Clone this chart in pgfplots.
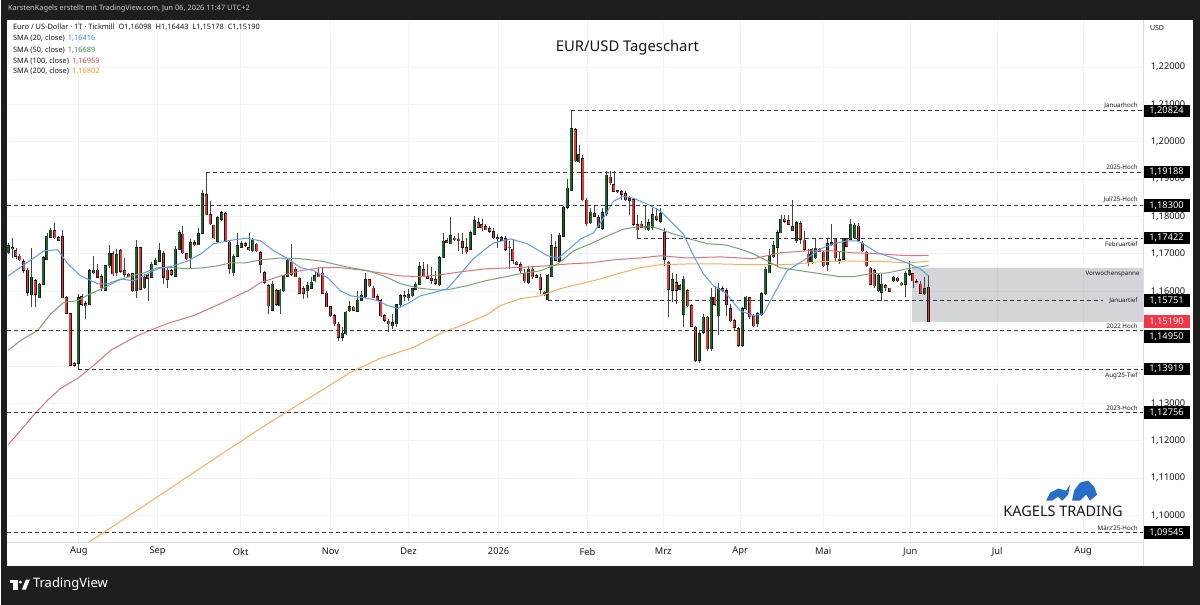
\documentclass[border=0pt]{standalone}
\usepackage{pgfplots}
\pgfplotsset{compat=1.18}
\usepackage{pgfplotstable}
\usepackage{fontspec}
\setmainfont{Noto Sans}
\definecolor{frame}{RGB}{30,30,30}
\definecolor{hdr}{RGB}{205,205,205}
\definecolor{txt}{RGB}{19,23,34}
\definecolor{gridc}{RGB}{240,243,250}
\definecolor{sepc}{RGB}{220,223,230}
\definecolor{wick}{RGB}{70,70,70}
\definecolor{outl}{RGB}{25,25,25}
\definecolor{upc}{RGB}{30,100,40}
\definecolor{dnc}{RGB}{232,55,55}
\definecolor{smaA}{RGB}{91,156,246}
\definecolor{smaB}{RGB}{115,165,115}
\definecolor{smaC}{RGB}{228,115,115}
\definecolor{smaD}{RGB}{255,172,90}
\definecolor{valA}{RGB}{70,130,240}
\definecolor{valB}{RGB}{70,140,70}
\definecolor{valC}{RGB}{225,60,60}
\definecolor{valD}{RGB}{255,150,50}
\definecolor{lvl}{RGB}{55,55,55}
\definecolor{boxg}{RGB}{149,152,161}
\definecolor{lastred}{RGB}{242,54,69}
\definecolor{kblue}{RGB}{40,110,200}
\newcommand{\fs}[1]{\fontsize{#1}{#1}\selectfont}
\tikzset{
  lvltxt/.style={font=\fs{6.2}, text=txt, inner sep=0pt},
  tk/.style={font=\fs{9.3}, text=txt, inner sep=0pt},
  pbox/.style={fill=black, text=white, font=\fs{9.3}, minimum width=47pt, minimum height=12.5pt, inner sep=0pt},
}
\pgfplotsset{lvlline/.style={lvl, line width=0.9pt, dash pattern=on 4pt off 3pt, forget plot}}

\pgfplotstableread{
i o h l c
0 1.1703 1.1730 1.1699 1.1721
1 1.1716 1.1743 1.1690 1.1714
2 1.1708 1.1715 1.1685 1.1694
3 1.1694 1.1699 1.1681 1.1684
4 1.1678 1.1686 1.1650 1.1656
5 1.1656 1.1663 1.1588 1.1597
6 1.1592 1.1716 1.1557 1.1637
7 1.1628 1.1632 1.1557 1.1592
8 1.1583 1.1623 1.1581 1.1619
9 1.1619 1.1694 1.1617 1.1690
10 1.1685 1.1756 1.1684 1.1747
11 1.1745 1.1770 1.1743 1.1763
12 1.1761 1.1783 1.1739 1.1743
13 1.1743 1.1747 1.1734 1.1737
14 1.1745 1.1765 1.1581 1.1583
15 1.1583 1.1588 1.1539 1.1542
16 1.1539 1.1543 1.1399 1.1402
17 1.1406 1.1410 1.1398 1.1402
18 1.1408 1.1592 1.13919 1.1583
19 1.1585 1.1592 1.1561 1.1566
20 1.1567 1.1574 1.1526 1.1561
21 1.1566 1.1659 1.1564 1.1654
22 1.1650 1.1694 1.1645 1.1656
23 1.1656 1.1672 1.1635 1.1637
24 1.1639 1.1645 1.1601 1.1610
25 1.1603 1.1670 1.1601 1.1668
26 1.1668 1.1725 1.1663 1.1700
27 1.1700 1.1708 1.1641 1.1647
28 1.1650 1.1712 1.1641 1.1697
29 1.1708 1.1712 1.1650 1.1654
30 1.1654 1.1690 1.1637 1.1645
31 1.1645 1.1650 1.1637 1.1641
32 1.1647 1.1650 1.1599 1.1601
33 1.1601 1.1737 1.1583 1.1716
34 1.1716 1.1718 1.1603 1.1606
35 1.1610 1.1645 1.1606 1.1637
36 1.1641 1.1645 1.1574 1.1635
37 1.1637 1.1677 1.1635 1.1672
38 1.1672 1.1690 1.1670 1.1683
39 1.1681 1.1730 1.1679 1.1708
40 1.1700 1.1708 1.1619 1.1637
41 1.1656 1.1663 1.1610 1.1632
42 1.1654 1.1659 1.1641 1.1645
43 1.1641 1.1721 1.1639 1.1712
44 1.1712 1.1765 1.1710 1.1756
45 1.1752 1.1774 1.1699 1.1703
46 1.1700 1.1703 1.1684 1.1687
47 1.1690 1.1739 1.1659 1.1730
48 1.1730 1.1736 1.1720 1.1725
49 1.1725 1.1770 1.1723 1.1754
50 1.1756 1.1872 1.1754 1.1861
51 1.1858 1.19188 1.1803 1.1805
52 1.1805 1.1842 1.1778 1.1781
53 1.1776 1.1778 1.1739 1.1743
54 1.1734 1.1801 1.1730 1.1796
55 1.1792 1.1814 1.1789 1.1810
56 1.1808 1.1812 1.1732 1.1734
57 1.1731 1.1734 1.1645 1.1661
58 1.1650 1.1699 1.1641 1.1694
59 1.1694 1.1756 1.1692 1.1721
60 1.1718 1.1734 1.1715 1.1727
61 1.1727 1.1732 1.1718 1.1723
62 1.1717 1.1757 1.1708 1.1711
63 1.1708 1.1743 1.1706 1.1736
64 1.1726 1.1730 1.1706 1.1708
65 1.1703 1.1708 1.1650 1.1672
66 1.1650 1.1655 1.1619 1.1624
67 1.1615 1.1619 1.1539 1.1561
68 1.1550 1.1628 1.1548 1.1619
69 1.1601 1.1606 1.1561 1.1566
70 1.1561 1.1606 1.1539 1.1603
71 1.1601 1.1644 1.1599 1.1641
72 1.1641 1.1690 1.1637 1.1683
73 1.1677 1.1726 1.1641 1.1646
74 1.1659 1.1664 1.1637 1.1639
75 1.1635 1.1639 1.1592 1.1594
76 1.1606 1.1615 1.1579 1.1594
77 1.1601 1.1624 1.1583 1.1615
78 1.1608 1.1637 1.1606 1.1624
79 1.1628 1.1655 1.1624 1.1641
80 1.1648 1.1664 1.1637 1.1639
81 1.1648 1.1664 1.1592 1.1594
82 1.1594 1.1601 1.1557 1.1559
83 1.1559 1.1561 1.1532 1.1535
84 1.1535 1.1539 1.1508 1.1513
85 1.1511 1.1517 1.1468 1.1477
86 1.1477 1.1504 1.1468 1.1488
87 1.1486 1.1548 1.1484 1.1544
88 1.1548 1.1575 1.1544 1.1559
89 1.1557 1.1561 1.1546 1.1550
90 1.1546 1.1601 1.1544 1.1576
91 1.1576 1.1601 1.1575 1.1588
92 1.1585 1.1650 1.1583 1.1630
93 1.1630 1.1632 1.1612 1.1615
94 1.1608 1.1615 1.1581 1.1583
95 1.1585 1.1592 1.1575 1.1576
96 1.1575 1.1579 1.1530 1.1535
97 1.1535 1.1539 1.1517 1.1523
98 1.1520 1.1526 1.1491 1.1513
99 1.1508 1.1539 1.1499 1.1515
100 1.1513 1.1566 1.1504 1.1564
101 1.1564 1.1592 1.1557 1.1588
102 1.1588 1.1601 1.1575 1.1585
103 1.1583 1.1606 1.1575 1.1591
104 1.1588 1.1610 1.1585 1.1606
105 1.1606 1.1624 1.1603 1.1619
106 1.1619 1.1677 1.1617 1.1665
107 1.1657 1.1677 1.1637 1.1641
108 1.1639 1.1672 1.1632 1.1635
109 1.1635 1.1664 1.1619 1.1630
110 1.1630 1.1655 1.1617 1.1621
111 1.1617 1.1694 1.1615 1.1690
112 1.1690 1.1757 1.1688 1.1733
113 1.1735 1.1743 1.1730 1.1732
114 1.1727 1.1798 1.1726 1.1748
115 1.1742 1.1748 1.1735 1.1738
116 1.1739 1.1757 1.1708 1.1735
117 1.1732 1.1757 1.1699 1.1718
118 1.1717 1.1743 1.1699 1.1706
119 1.1712 1.1761 1.1710 1.1757
120 1.1752 1.1801 1.1750 1.1788
121 1.1783 1.1797 1.1770 1.1772
122 1.1777 1.1792 1.1761 1.1770
123 1.1772 1.1779 1.1763 1.1765
124 1.1767 1.1774 1.1757 1.1761
125 1.1759 1.1770 1.1739 1.1743
126 1.1743 1.1752 1.1717 1.1741
127 1.1736 1.1748 1.1734 1.1743
128 1.1741 1.1748 1.1708 1.1712
129 1.1718 1.1734 1.1659 1.1716
130 1.1712 1.1739 1.1672 1.1683
131 1.1677 1.1681 1.1671 1.1672
132 1.1671 1.1677 1.1646 1.1655
133 1.1648 1.1659 1.1623 1.1628
134 1.1623 1.1668 1.1619 1.1659
135 1.1659 1.1668 1.1632 1.1639
136 1.1641 1.1646 1.1635 1.1637
137 1.1637 1.1646 1.1593 1.1606
138 1.1597 1.1601 1.1588 1.1594
139 1.1577 1.1646 1.15751 1.1641
140 1.1641 1.1752 1.1639 1.1721
141 1.1717 1.1734 1.1681 1.1683
142 1.1681 1.1757 1.1677 1.1750
143 1.1748 1.1827 1.1746 1.1823
144 1.1825 1.1899 1.1820 1.1875
145 1.1869 1.20824 1.1867 1.2034
146 1.2032 1.2036 1.1947 1.1949
147 1.1947 1.1992 1.1943 1.1965
148 1.1955 1.1965 1.1841 1.1845
149 1.1843 1.1850 1.1774 1.1781
150 1.1783 1.1823 1.1779 1.1811
151 1.1807 1.1827 1.1799 1.1801
152 1.1796 1.1805 1.1770 1.1772
153 1.1768 1.1823 1.1765 1.1810
154 1.1807 1.1921 1.1801 1.1910
155 1.1905 1.1922 1.1885 1.1890
156 1.1885 1.1922 1.1866 1.1867
157 1.1869 1.1872 1.1863 1.1866
158 1.1866 1.1872 1.1845 1.1860
159 1.1860 1.1867 1.1841 1.1845
160 1.1847 1.1854 1.1805 1.1843
161 1.1845 1.1850 1.1774 1.1779
162 1.1777 1.1805 1.17422 1.1765
163 1.1779 1.1788 1.1768 1.1772
164 1.1774 1.1827 1.1765 1.1770
165 1.1765 1.1792 1.1761 1.1783
166 1.1770 1.1823 1.1765 1.1804
167 1.1801 1.1823 1.1789 1.1792
168 1.1788 1.1823 1.1783 1.1807
169 1.1757 1.1770 1.1668 1.1686
170 1.1677 1.1681 1.1530 1.1606
171 1.1603 1.1650 1.1570 1.1630
172 1.1623 1.1646 1.1566 1.1603
173 1.1606 1.1619 1.1603 1.1615
174 1.1539 1.1641 1.1504 1.1632
175 1.1601 1.1606 1.1557 1.1561
176 1.1561 1.1566 1.1504 1.1506
177 1.1504 1.1508 1.1411 1.1415
178 1.1415 1.1495 1.1408 1.1486
179 1.1490 1.1539 1.1486 1.1530
180 1.1530 1.1535 1.1441 1.1446
181 1.1446 1.1610 1.1441 1.1584
182 1.1584 1.1615 1.1561 1.1566
183 1.1535 1.1623 1.1484 1.1606
184 1.1606 1.1615 1.1597 1.1601
185 1.1601 1.1610 1.1535 1.1566
186 1.1553 1.1566 1.1517 1.1521
187 1.1521 1.1526 1.1495 1.1504
188 1.1499 1.1504 1.1451 1.1455
189 1.1455 1.1557 1.1451 1.1553
190 1.1553 1.1588 1.1550 1.1584
191 1.1582 1.1585 1.1526 1.1532
192 1.1535 1.1539 1.1504 1.1508
193 1.1513 1.1544 1.1504 1.1539
194 1.1538 1.1597 1.1535 1.1593
195 1.1593 1.1664 1.1591 1.1659
196 1.1650 1.1712 1.1648 1.1695
197 1.1692 1.1735 1.1690 1.1721
198 1.1718 1.1765 1.1664 1.1757
199 1.1757 1.1805 1.1755 1.1792
200 1.1792 1.1805 1.1783 1.1788
201 1.1789 1.1805 1.1776 1.1779
202 1.1772 1.1845 1.1761 1.1763
203 1.1735 1.1788 1.1730 1.1783
204 1.1781 1.1788 1.1726 1.1739
205 1.1736 1.1761 1.1708 1.1712
206 1.1699 1.1712 1.1668 1.1677
207 1.1677 1.1717 1.1673 1.1712
208 1.1690 1.1743 1.1686 1.1715
209 1.1712 1.1717 1.1704 1.1706
210 1.1704 1.1708 1.1664 1.1668
211 1.1671 1.1739 1.1655 1.1727
212 1.1726 1.1779 1.1721 1.1730
213 1.1741 1.1743 1.1681 1.1690
214 1.1686 1.1704 1.1673 1.1683
215 1.1686 1.1743 1.1683 1.1741
216 1.1741 1.1743 1.1719 1.1721
217 1.1739 1.1792 1.1736 1.1779
218 1.1743 1.1783 1.1741 1.1776
219 1.1774 1.1783 1.1735 1.1736
220 1.1727 1.1735 1.1704 1.1708
221 1.1704 1.1708 1.1665 1.1668
222 1.1661 1.1664 1.1616 1.1619
223 1.1655 1.1659 1.1610 1.1615
224 1.1601 1.1646 1.1597 1.1641
225 1.1597 1.1646 1.1575 1.1619
226 1.1615 1.1619 1.1601 1.1610
227 1.1608 1.1610 1.1597 1.1600
228 1.1628 1.1641 1.1626 1.1637
229 1.1635 1.1639 1.1626 1.1628
230 1.1621 1.1624 1.1615 1.1617
231 1.1619 1.1655 1.1584 1.1646
232 1.1646 1.1681 1.1641 1.1655
233 1.1646 1.1650 1.1610 1.1628
234 1.1626 1.1632 1.1621 1.1624
235 1.1619 1.1628 1.1593 1.1594
236 1.1593 1.1637 1.1591 1.1606
237 1.16098 1.16443 1.15178 1.15190
}\candles

\pgfplotstableread{
i p
0 1.1641
9.2 1.1708
12.8 1.1711
15.4 1.1673
18.7 1.1641
23.1 1.1620
25.7 1.1620
29.0 1.1633
32.3 1.1628
35.9 1.1647
38.5 1.1660
42.6 1.1668
46.2 1.1681
49.6 1.1700
52.9 1.1727
56.5 1.1735
61.2 1.1742
65.0 1.1735
68.4 1.1708
72.0 1.1687
75.3 1.1663
78.7 1.1655
82.3 1.1636
85.6 1.1601
88.2 1.1588
91.5 1.1583
95.1 1.1575
97.7 1.1562
100.3 1.1554
102.9 1.1567
106.2 1.1588
109.5 1.1596
113.1 1.1607
116.5 1.1647
119.8 1.1687
122.9 1.1713
125.0 1.1729
129.4 1.1740
133.7 1.1727
138.9 1.1695
141.7 1.1689
144.8 1.1716
147.4 1.1740
150.7 1.1756
153.3 1.1796
155.9 1.1841
158.4 1.1854
161.0 1.1849
164.6 1.1833
168.0 1.1814
171.3 1.1780
173.9 1.1753
176.5 1.1695
179.0 1.1647
181.6 1.1615
184.7 1.1596
188.5 1.1548
191.9 1.1535
194.5 1.1540
198.1 1.1609
200.6 1.1655
205.8 1.1689
209.1 1.1713
212.5 1.1727
216.1 1.1735
218.7 1.1735
220.2 1.1727
223.8 1.1703
227.9 1.1689
231.5 1.1676
234.9 1.1660
237 1.16416
}\smaTwenty

\pgfplotstableread{
i p
0 1.1442
3.3 1.1469
7.6 1.1495
11.0 1.1540
14.3 1.1570
17.9 1.1575
21.3 1.1594
24.6 1.1609
28.2 1.1628
31.6 1.1641
34.9 1.1649
38.5 1.1663
42.6 1.1663
46.2 1.1660
50.4 1.1663
53.9 1.1668
57.3 1.1676
61.2 1.1676
65.0 1.1684
70.2 1.1689
75.3 1.1687
80.5 1.1681
83.8 1.1673
88.2 1.1663
92.6 1.1655
96.7 1.1641
101.1 1.1620
105.4 1.1609
109.5 1.1604
113.1 1.1604
118.3 1.1615
122.9 1.1628
126.8 1.1636
131.9 1.1647
137.1 1.1655
141.5 1.1673
145.6 1.1708
150.0 1.1727
154.3 1.1748
158.4 1.1766
162.0 1.1772
166.2 1.1772
170.5 1.1756
174.9 1.1742
180.1 1.1727
184.7 1.1724
188.5 1.1713
191.9 1.1700
195.5 1.1681
198.8 1.1663
204.0 1.1655
209.1 1.1647
214.3 1.1639
217.6 1.1639
222.0 1.1647
226.4 1.1649
231.5 1.1660
237 1.16689
}\smaFifty

\pgfplotstableread{
i p
0 1.1189
3.3 1.1229
6.6 1.1269
10.2 1.1309
13.6 1.1341
17.9 1.1367
22.1 1.1402
26.4 1.1442
33.4 1.1482
41.1 1.1514
47.8 1.1535
54.7 1.1567
61.7 1.1601
65.0 1.1623
70.2 1.1641
75.3 1.1655
80.5 1.1663
85.6 1.1663
90.8 1.1657
95.9 1.1649
101.1 1.1641
106.2 1.1639
111.3 1.1644
116.5 1.1652
122.9 1.1660
130.1 1.1663
138.9 1.1668
144.0 1.1673
149.9 1.1676
155.9 1.1684
162.8 1.1689
168.0 1.1695
174.9 1.1689
183.4 1.1692
191.9 1.1687
198.8 1.1703
205.8 1.1708
212.5 1.1708
217.6 1.1703
224.6 1.1700
231.5 1.1695
237 1.16959
}\smaHundred

\pgfplotstableread{
i p
15 1.0895
20.0 1.0923
31.6 1.1003
43.2 1.1083
54.7 1.1163
66.3 1.1242
77.9 1.1317
88.2 1.1383
95.9 1.1421
104.4 1.1450
111.3 1.1487
116.5 1.1508
122.9 1.1535
126.8 1.1562
131.9 1.1580
137.1 1.1588
142.2 1.1607
147.4 1.1620
152.5 1.1633
157.7 1.1649
162.8 1.1663
168.0 1.1671
174.9 1.1673
183.4 1.1673
191.9 1.1671
200.6 1.1671
209.1 1.1679
217.6 1.1681
226.4 1.1679
231.5 1.1676
237 1.16802
}\smaTwoHundred

\begin{document}
\begin{tikzpicture}[x=1pt,y=1pt]
\fill[frame] (0,0) rectangle (1200,605);
\fill[white] (6,39) rectangle (1193,585);
\begin{axis}[
  at={(6pt,62pt)}, anchor=south west,
  scale only axis, width=1137pt, height=523pt,
  xmin=-0.33, xmax=292.25, ymin=1.09276, ymax=1.23257,
  axis line style={draw=none},
  tick style={draw=none},
  major tick length=0pt,
  xtick={18.2,38.5,59.9,83.0,103.1,126.3,149.2,168.7,188.5,209.9,232.3,254.7,276.8},
  ytick={1.10,1.11,1.12,1.13,1.14,1.15,1.16,1.17,1.18,1.19,1.20,1.21,1.22},
  xticklabels={}, yticklabels={},
  grid=major, grid style={gridc, line width=0.8pt},
  clip=false,
]
% previous week range box
\addplot[draw=none, fill=boxg, fill opacity=0.4, forget plot]
  coordinates {(232.8,1.16627) (292.25,1.16627) (292.25,1.15178) (232.8,1.15178) (232.8,1.16627)};

% wicks
\addplot[draw=none, mark=none, forget plot,
  error bars/.cd, y dir=plus, y explicit, error mark=none,
  error bar style={draw=wick, line width=0.8pt, solid}]
  table[x=i, y=l, y error plus expr=\thisrow{h}-\thisrow{l}] {\candles};
% up bodies
\addplot[draw=none, mark=none, forget plot,
  restrict expr to domain={\thisrow{c}-\thisrow{o}}{0:1},
  error bars/.cd, y dir=plus, y explicit, error mark=none,
  error bar style={draw=outl, line width=3pt, solid}]
  table[x=i, y expr=\thisrow{o}-0.00016, y error plus expr=\thisrow{c}-\thisrow{o}+0.00032] {\candles};
\addplot[draw=none, mark=none, forget plot,
  restrict expr to domain={\thisrow{c}-\thisrow{o}}{0:1},
  error bars/.cd, y dir=plus, y explicit, error mark=none,
  error bar style={draw=upc, line width=1.8pt, solid}]
  table[x=i, y=o, y error plus expr=\thisrow{c}-\thisrow{o}] {\candles};
% down bodies
\addplot[draw=none, mark=none, forget plot,
  restrict expr to domain={\thisrow{c}-\thisrow{o}}{-1:0},
  error bars/.cd, y dir=plus, y explicit, error mark=none,
  error bar style={draw=outl, line width=3pt, solid}]
  table[x=i, y expr=\thisrow{c}-0.00016, y error plus expr=\thisrow{o}-\thisrow{c}+0.00032] {\candles};
\addplot[draw=none, mark=none, forget plot,
  restrict expr to domain={\thisrow{c}-\thisrow{o}}{-1:0},
  error bars/.cd, y dir=plus, y explicit, error mark=none,
  error bar style={draw=dnc, line width=1.8pt, solid}]
  table[x=i, y=c, y error plus expr=\thisrow{o}-\thisrow{c}] {\candles};

% moving averages
\begin{scope}
\clip (axis cs:-0.33,1.09276) rectangle (axis cs:292.25,1.23257);
\addplot[smaD, line width=1pt, forget plot] table[x=i, y=p] {\smaTwoHundred};
\addplot[smaC, line width=1pt, forget plot] table[x=i, y=p] {\smaHundred};
\addplot[smaB, line width=1pt, forget plot] table[x=i, y=p] {\smaFifty};
\addplot[smaA, line width=1pt, forget plot] table[x=i, y=p] {\smaTwenty};
\end{scope}

% horizontal levels
\addplot[lvlline] coordinates {(145,1.20824) (292.25,1.20824)};
\addplot[lvlline] coordinates {(51,1.19188) (292.25,1.19188)};
\addplot[lvlline] coordinates {(-0.33,1.18300) (292.25,1.18300)};
\addplot[lvlline] coordinates {(162,1.17422) (292.25,1.17422)};
\addplot[lvlline] coordinates {(139,1.15751) (282,1.15751)};
\addplot[lvlline] coordinates {(-0.33,1.14950) (292.25,1.14950)};
\addplot[lvlline] coordinates {(18,1.13919) (292.25,1.13919)};
\addplot[lvlline] coordinates {(-0.33,1.12756) (292.25,1.12756)};
\addplot[lvlline] coordinates {(-0.33,1.09545) (292.25,1.09545)};

\node[lvltxt, anchor=south east, yshift=2pt] at (axis cs:290.9,1.20824) {Januarhoch};
\node[lvltxt, anchor=south east, yshift=2pt] at (axis cs:290.9,1.19188) {2025-Hoch};
\node[lvltxt, anchor=south east, yshift=2pt] at (axis cs:290.9,1.18300) {Juli'25-Hoch};
\node[lvltxt, anchor=north east, yshift=-3pt] at (axis cs:290.9,1.17422) {Februartief};
\node[lvltxt, anchor=north east, yshift=-2.5pt] at (axis cs:291.4,1.16627) {Vorwochenspanne};
\node[lvltxt, anchor=east] at (axis cs:290.9,1.15751) {Januartief};
\node[lvltxt, anchor=south east, yshift=2pt] at (axis cs:290.9,1.14950) {2022 Hoch};
\node[lvltxt, anchor=north east, yshift=-3.5pt] at (axis cs:290.9,1.13919) {Aug'25-Tief};
\node[lvltxt, anchor=south east, yshift=2pt] at (axis cs:290.9,1.12756) {2023-Hoch};
\node[lvltxt, anchor=south east, yshift=2pt] at (axis cs:290.9,1.09545) {März'25-Hoch};

% price scale labels
\node[tk] at (axis cs:298.7,1.22) {1,22000};
\node[tk] at (axis cs:298.7,1.21) {1,21000};
\node[tk] at (axis cs:298.7,1.20) {1,20000};
\node[tk] at (axis cs:298.7,1.19) {1,19000};
\node[tk] at (axis cs:298.7,1.18) {1,18000};
\node[tk] at (axis cs:298.7,1.17) {1,17000};
\node[tk] at (axis cs:298.7,1.16) {1,16000};
\node[tk] at (axis cs:298.7,1.13) {1,13000};
\node[tk] at (axis cs:298.7,1.12) {1,12000};
\node[tk] at (axis cs:298.7,1.11) {1,11000};
\node[tk] at (axis cs:298.7,1.10) {1,10000};

\node[pbox] at (axis cs:298.3,1.20824) {1,20824};
\node[pbox] at (axis cs:298.3,1.19188) {1,19188};
\node[pbox] at (axis cs:298.3,1.18300) {1,18300};
\node[pbox] at (axis cs:298.3,1.17422) {1,17422};
\node[pbox] at (axis cs:298.3,1.15751) {1,15751};
\node[pbox, fill=lastred] at (axis cs:298.3,1.15190) {1,15190};
\node[pbox] at (axis cs:298.3,1.14791) {1,14950};
\node[pbox] at (axis cs:298.3,1.13919) {1,13919};
\node[pbox] at (axis cs:298.3,1.12756) {1,12756};
\node[pbox] at (axis cs:298.3,1.09545) {1,09545};

% time axis labels
\node[tk] at (axis cs:18.2,1.09036) {Aug};
\node[tk] at (axis cs:38.5,1.09036) {Sep};
\node[tk] at (axis cs:59.9,1.09036) {Okt};
\node[tk] at (axis cs:83.0,1.09036) {Nov};
\node[tk] at (axis cs:103.1,1.09036) {Dez};
\node[tk, font=\fs{9.3}\bfseries] at (axis cs:126.3,1.09036) {2026};
\node[tk] at (axis cs:149.2,1.09036) {Feb};
\node[tk] at (axis cs:168.7,1.09036) {Mrz};
\node[tk] at (axis cs:188.5,1.09036) {Apr};
\node[tk] at (axis cs:209.9,1.09036) {Mai};
\node[tk] at (axis cs:232.3,1.09036) {Jun};
\node[tk] at (axis cs:254.7,1.09036) {Jul};
\node[tk] at (axis cs:276.8,1.09036) {Aug};
\end{axis}

% pane separators
\draw[sepc, line width=0.8pt] (6,62) -- (1143,62);
\draw[sepc, line width=0.8pt] (1143,39) -- (1143,585);

% header
\node[anchor=west, inner sep=0pt, text=hdr, font=\fs{7.4}] at (7,596) {KarstenKagels erstellt mit TradingView.com, Jun 06, 2026 11:47 UTC+2};

% legend
\begin{scope}[every node/.style={anchor=west, inner sep=0pt, font=\fs{7.4}, text=txt}]
\node at (12,578.3) {Euro / US-Dollar · 1T · Tickmill\hspace{4pt}O1,16098\hspace{4pt}H1,16443\hspace{4pt}L1,15178\hspace{4pt}C1,15190};
\node at (12,566.7) {SMA (20, close)\hspace{3pt}\textcolor{valA}{1,16416}};
\node at (12,555.0) {SMA (50, close)\hspace{3pt}\textcolor{valB}{1,16689}};
\node at (12,544.0) {SMA (100, close)\hspace{3pt}\textcolor{valC}{1,16959}};
\node at (12,533.3) {SMA (200, close)\hspace{3pt}\textcolor{valD}{1,16802}};
\end{scope}

% title
\node[text=txt, font=\fs{14.8}, inner sep=0pt] at (627,557) {EUR/USD Tageschart};
% USD
\node[text=txt, font=\fs{7}, inner sep=0pt] at (1157,577) {USD};

% KAGELS TRADING logo
\fill[kblue] (1046,104) -- (1050,112) -- (1058,116) -- (1066,114) -- (1070,120) -- (1068,110) -- (1062,104) -- (1058,108) -- (1052,104) -- cycle;
\fill[kblue] (1072,104) -- (1074,114) -- (1080,122) -- (1088,124) -- (1094,118) -- (1097,110) -- (1090,104) -- (1086,110) -- (1080,104) -- cycle;
\node[text=txt, font=\fs{14.5}, inner sep=0pt] at (1063,93) {\textbf{KAGELS} TRADING};

% footer logo
\fill[white] (9,21.5) rectangle (17,25);
\fill[white] (12.5,15) rectangle (17,25);
\fill[white] (19.5,22.5) circle (1.6);
\fill[white] (21,15) -- (25,25) -- (29,25) -- (25,15) -- cycle;
\node[anchor=west, inner sep=0pt, text=white, font=\fs{13}] at (32,20) {TradingView};
\end{tikzpicture}
\end{document}
